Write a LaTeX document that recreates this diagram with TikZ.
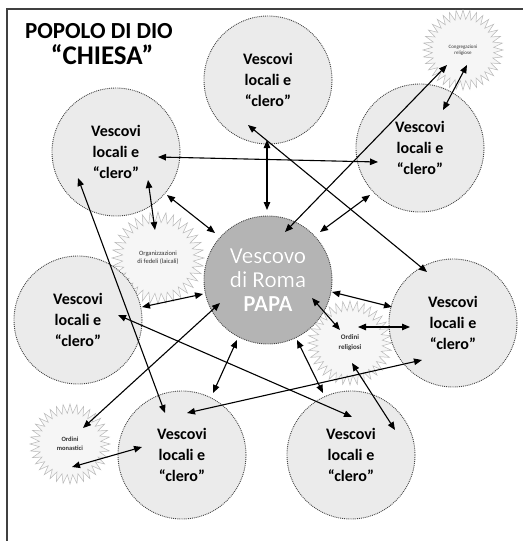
\documentclass[tikz,border=0pt]{standalone}
\usepackage{fontspec}
\setmainfont{Carlito}
\usepackage[outline]{contour}
\contourlength{0.5pt}
\usetikzlibrary{arrows.meta,calc,shapes.geometric}
\definecolor{circfill}{HTML}{EBEBEB}
\definecolor{papafill}{HTML}{B4B4B4}
\definecolor{starfill}{HTML}{F6F6F6}
\definecolor{stardraw}{HTML}{B8B8B8}
\definecolor{circline}{HTML}{444444}
\tikzset{
  vesc/.style={circle, minimum size=128pt, inner sep=0pt, fill=circfill,
    draw=circline, densely dotted, line width=0.9pt, align=center,
    font=\bfseries\fontsize{16}{21}\selectfont, text=black},
  papa/.style={circle, minimum size=128pt, inner sep=0pt, fill=papafill,
    draw=circline, densely dotted, line width=0.9pt, align=center,
    font=\fontsize{23}{24}\selectfont, text=white},
  burst/.style={star, star points=36, star point ratio=1.3, inner sep=0pt,
    fill=starfill, draw=stardraw, line width=0.5pt, align=center,
    font=\fontsize{6.5}{8}\selectfont, text=black!80},
  link/.style={line width=1.1pt, black, {Triangle[length=8pt,width=6.5pt]}-{Triangle[length=8pt,width=6.5pt]}},
  frame/.style={line width=1.5pt, black!75}
}
\begin{document}
\begin{tikzpicture}[x=1pt,y=-1pt]
\useasboundingbox (0,0) rectangle (523,541);
\coordinate (f1) at (7,541);
\coordinate (f2) at (7,9);
\coordinate (f3) at (523,9);
\draw[frame] (f1) -- (f2) -- (f3);

\node (title1) [font=\bfseries\fontsize{23}{25}\selectfont, inner sep=0pt] at (99,31) {POPOLO DI DIO};
\node (title2) [font=\bfseries\fontsize{27}{28}\selectfont, inner sep=0pt] at (102,55) {“CHIESA”};

% starbursts
\node (CG) [burst, minimum size=80pt, font=\fontsize{5}{6}\selectfont] at (463,50) {Congregazioni\\religiose};
\node (OF) [burst, minimum size=92pt] at (158,258) {Organizzazioni\\di fedeli (laicali)};
\node (OR) [burst, minimum size=84pt, font=\bfseries\fontsize{7}{10}\selectfont] at (350,343) {Ordini\\religiosi};
\node (OM) [burst, minimum size=80pt, font=\bfseries\fontsize{6.5}{9}\selectfont] at (70,444) {Ordini\\monastici};

% circles
\node (T)  [vesc] at (268,80)  {Vescovi\\locali e\\“clero”};
\node (TL) [vesc] at (116,152) {Vescovi\\locali e\\“clero”};
\node (TR) [vesc] at (420,148) {Vescovi\\locali e\\“clero”};
\node (ML) [vesc] at (78,320)  {Vescovi\\locali e\\“clero”};
\node (MR) [vesc] at (453,323) {Vescovi\\locali e\\“clero”};
\node (BL) [vesc] at (182,455) {Vescovi\\locali e\\“clero”};
\node (BR) [vesc] at (351,455) {Vescovi\\locali e\\“clero”};
\node (C)  [papa] at (268,280) {\contour{gray}{Vescovo}\\\contour{gray}{di Roma}\\\contour{gray}{\bfseries PAPA}};

% connectors
\draw[link] ($(TL)+(42,5)$) -- ($(TR)+(-42,14)$);
\draw[link] ($(T)+(-1,60)$) -- ($(C)+(-1,-70)$);
\draw[link] ($(T)+(-20,45)$) -- ($(MR)+(-26,-51)$);
\draw[link] ($(C)+(17,-48)$) -- ($(CG)+(-16,15)$);
\draw[link] ($(TR)+(23,-38)$) -- ($(CG)+(4,15)$);
\draw[link] ($(C)+(52,-48)$) -- ($(TR)+(-50,47)$);
\draw[link] ($(TL)+(51,43)$) -- ($(C)+(-53,-47)$);
\draw[link] ($(TL)+(32,28)$) -- ($(OF)+(-3,-28)$);
\draw[link] ($(TL)+(-38,26)$) -- ($(BL)+(-17,-42)$);
\draw[link] ($(ML)+(64,-13)$) -- ($(C)+(-65,14)$);
\draw[link] ($(ML)+(40,-5)$) -- ($(BR)+(1,-38)$);
\draw[link] ($(C)+(-48,23)$) -- ($(OM)+(13,-16)$);
\draw[link] ($(C)+(-31,60)$) -- ($(BL)+(31,-62)$);
\draw[link] ($(C)+(29,60)$) -- ($(BR)+(-28,-62)$);
\draw[link] ($(C)+(64,12)$) -- ($(MR)+(-61,-16)$);
\draw[link] ($(C)+(44,18)$) -- ($(OR)+(-10,-13)$);
\draw[link] ($(OR)+(8,-16)$) -- ($(MR)+(-43,4)$);
\draw[link] ($(BL)+(5,-42)$) -- ($(MR)+(-31,37)$);
\draw[link] ($(OR)+(2,20)$) -- ($(BR)+(44,-25)$);
\draw[link] ($(OM)+(2,23)$) -- ($(BL)+(-40,-8)$);
\end{tikzpicture}
\end{document}
